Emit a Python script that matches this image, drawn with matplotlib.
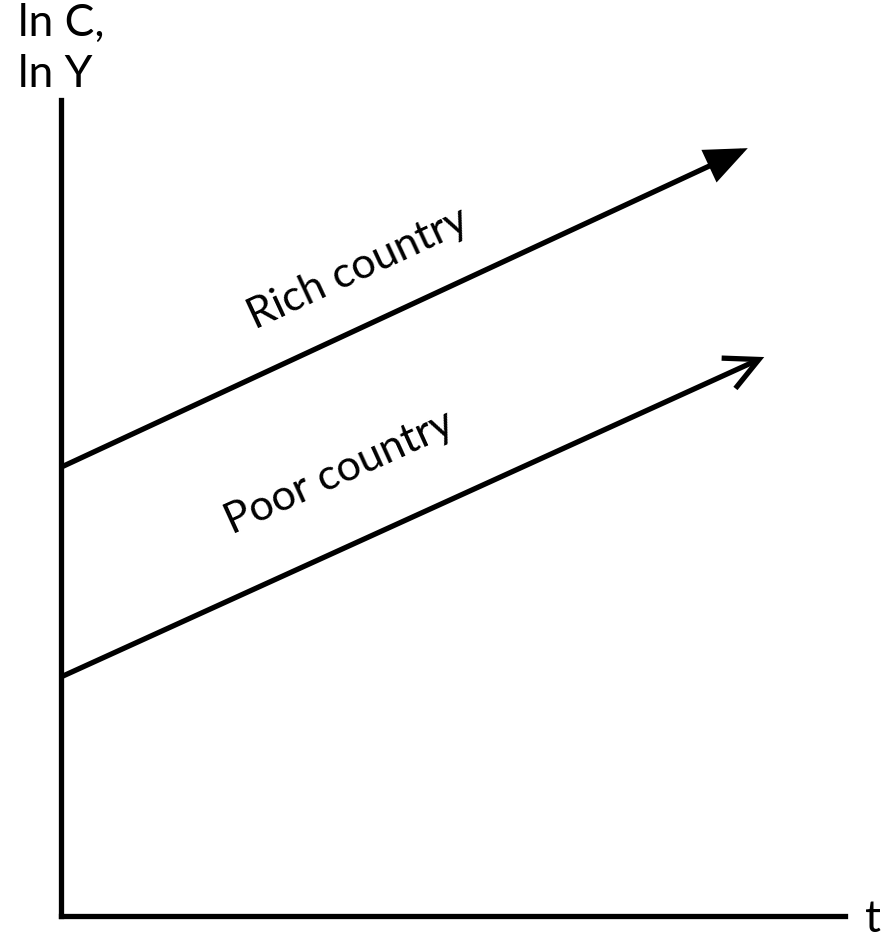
import math
import matplotlib
matplotlib.use("Agg")
import matplotlib.pyplot as plt

# Data (arbitrary units: t on x, ln C / ln Y on y)
series_names = ["Rich country", "Poor country"]
t_start = [0.0, 0.0]
t_end = [8.76, 8.97]
y_start = [5.50, 2.93]
y_end = [9.41, 6.85]
label_pos_t = [3.79, 3.55]
label_pos_y = [7.94, 5.43]
arrow_styles = ["-|>,head_length=1.0,head_width=0.42", "->,head_length=1.0,head_width=0.5"]

W, H = 891, 943
fig = plt.figure(figsize=(W / 100, H / 100), dpi=100)
fam = ["Lato", "DejaVu Sans"]

left, right, bottom, top = 61, 845, 916, 100
ax = fig.add_axes([left / W, 1 - bottom / H, (right - left) / W, (bottom - top) / H])
ax.set_xlim(0, 10)
ax.set_ylim(0, 10)
for s in ["top", "right"]:
    ax.spines[s].set_visible(False)
for s in ["left", "bottom"]:
    ax.spines[s].set_linewidth(3.8)
    ax.spines[s].set_color("black")
ax.set_xticks([])
ax.set_yticks([])
ax.patch.set_alpha(0)

for i, name in enumerate(series_names):
    ax.annotate("", xy=(t_end[i], y_end[i]), xytext=(t_start[i], y_start[i]),
                arrowprops=dict(arrowstyle=arrow_styles[i],
                                lw=3.8, color="black", shrinkA=0, shrinkB=0,
                                mutation_scale=24, joinstyle="miter", capstyle="butt"),
                annotation_clip=False)
    p0 = ax.transData.transform((t_start[i], y_start[i]))
    p1 = ax.transData.transform((t_end[i], y_end[i]))
    ang = math.degrees(math.atan2(p1[1] - p0[1], p1[0] - p0[0]))
    ax.text(label_pos_t[i], label_pos_y[i], name, rotation=ang, rotation_mode="anchor",
            ha="center", va="center", fontsize=31, family=fam)

fig.text(18 / W, 1 - 3 / H, "ln C,\nln Y", ha="left", va="top", fontsize=32,
         family=fam, linespacing=1.3)
fig.text(873 / W, 1 - 920 / H, "t", ha="center", va="center", fontsize=32, family=fam)

fig.savefig("out.png", dpi=100)
